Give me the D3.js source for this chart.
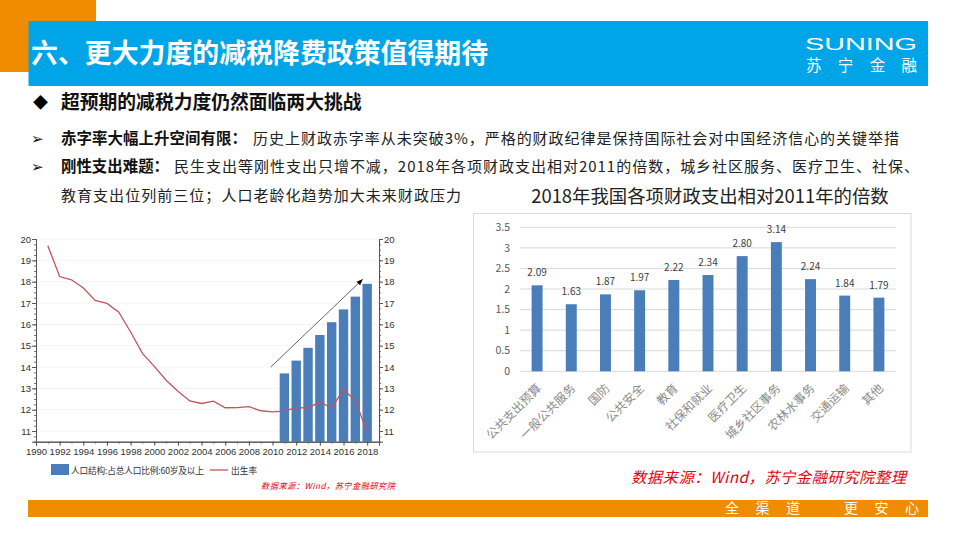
<!DOCTYPE html>
<html>
<head>
<meta charset="utf-8">
<script src="https://cdn.jsdelivr.net/npm/d3@7"></script>
<style>
  html, body { margin: 0; padding: 0; background: #fff; }
  svg { display: block; }
  text { font-family: "Noto Sans CJK SC", "Noto Sans", sans-serif; }
</style>
</head>
<body>
<script>
// left chart
const years = d3.range(1991, 2019);
const birthRate = [19.68, 18.24, 18.09, 17.70, 17.12, 16.98, 16.57, 15.64, 14.64, 14.03,
  13.38, 12.86, 12.41, 12.29, 12.40, 12.09, 12.10, 12.14, 11.95, 11.90,
  11.93, 12.10, 12.08, 12.37, 12.07, 12.95, 12.43, 10.94];
const barYears = [2011, 2012, 2013, 2014, 2015, 2016, 2017, 2018];
const agedShare = [13.7, 14.3, 14.9, 15.5, 16.1, 16.7, 17.3, 17.9];
const yearTicks = d3.range(1990, 2019, 2);
const rateTicks = d3.range(11, 21);
const arrowFrom = [2009.85, 14];
const arrowTo = [2017.6, 18.1];

// right chart
const categories = ["公共支出预算", "一般公共服务", "国防", "公共安全", "教育", "社保和就业",
  "医疗卫生", "城乡社区事务", "农林水事务", "交通运输", "其他"];
const multiples = [2.09, 1.63, 1.87, 1.97, 2.22, 2.34, 2.80, 3.14, 2.24, 1.84, 1.79];
const multipleTicks = [0, 0.5, 1, 1.5, 2, 2.5, 3, 3.5];

const orange = "#f08c00", blue = "#00a5e8", barBlue = "#4a7ebb", red = "#e60012";

const svg = d3.select("body").append("svg").attr("width", 960).attr("height", 540);

// page furniture
svg.append("rect").attr("x", 0).attr("y", 0).attr("width", 96).attr("height", 72).attr("fill", orange);
svg.append("rect").attr("x", 28.5).attr("y", 21).attr("width", 899.5).attr("height", 65).attr("fill", blue);
svg.append("rect").attr("x", 28).attr("y", 500).attr("width", 900).attr("height", 17).attr("fill", orange);

svg.append("text").attr("x", 31).attr("y", 63).attr("fill", "#fff")
  .attr("font-size", 26.9).attr("font-weight", 700).text("六、更大力度的减税降费政策值得期待");

svg.append("text").attr("x", 805).attr("y", 49.5).attr("fill", "#fff").attr("font-size", 16.5)
  .attr("textLength", 112).attr("lengthAdjust", "spacingAndGlyphs")
  .style("font-family", "Liberation Sans").text("SUNING");
svg.append("text").attr("x", 806).attr("y", 71).attr("fill", "#fff").attr("font-size", 15.5)
  .attr("textLength", 111).text("苏宁金融");

svg.append("text").attr("x", 725).attr("y", 513).attr("fill", "#fff").attr("font-size", 14)
  .attr("textLength", 75).text("全渠道");
svg.append("text").attr("x", 844).attr("y", 513).attr("fill", "#fff").attr("font-size", 14)
  .attr("textLength", 75).text("更安心");

// headline and bullets
svg.append("text").attr("x", 33).attr("y", 108).attr("font-size", 15).attr("fill", "#000").text("◆");
svg.append("text").attr("x", 61).attr("y", 109).attr("font-size", 18.8).attr("font-weight", 700)
  .attr("fill", "#111").text("超预期的减税力度仍然面临两大挑战");

const bullet = (y, bold, boldLen, rest, restX, restLen) => {
  svg.append("text").attr("x", 31).attr("y", y).attr("font-size", 15).attr("font-weight", 700)
    .style("font-family", "DejaVu Sans").attr("fill", "#111").text("➢");
  svg.append("text").attr("x", 61).attr("y", y).attr("font-size", 15.4).attr("font-weight", 700)
    .attr("fill", "#111").attr("textLength", boldLen).text(bold);
  svg.append("text").attr("x", restX).attr("y", y).attr("font-size", 15).attr("fill", "#222")
    .attr("textLength", restLen).text(rest);
};
bullet(144, "赤字率大幅上升空间有限：", 186,
  "历史上财政赤字率从未突破3%，严格的财政纪律是保持国际社会对中国经济信心的关键举措", 253, 646);
bullet(172, "刚性支出难题：", 108,
  "民生支出等刚性支出只增不减，2018年各项财政支出相对2011的倍数，城乡社区服务、医疗卫生、社保、", 174, 745);
svg.append("text").attr("x", 61).attr("y", 201).attr("font-size", 15).attr("fill", "#222")
  .attr("textLength", 400).text("教育支出位列前三位；人口老龄化趋势加大未来财政压力");

svg.append("text").attr("x", 710).attr("y", 203).attr("text-anchor", "middle")
  .attr("font-size", 18.4).attr("fill", "#222").text("2018年我国各项财政支出相对2011年的倍数");

// left chart: scales
const x1 = d3.scaleLinear().domain([1990, 2019]).range([36, 379]);
const y1 = d3.scaleLinear().domain([10.5, 20]).range([441.7, 239]);

const left = svg.append("g");

left.append("g").selectAll("line").data(rateTicks).join("line")
  .attr("x1", x1(1990)).attr("x2", x1(2019))
  .attr("y1", d => y1(d)).attr("y2", d => y1(d))
  .attr("stroke", "#f4f4f4").attr("stroke-width", 1);

left.append("g").selectAll("rect").data(barYears).join("rect")
  .attr("x", d => x1(d) - 4.7).attr("width", 9.4)
  .attr("y", (d, i) => y1(agedShare[i]))
  .attr("height", (d, i) => y1(10.5) - y1(agedShare[i]))
  .attr("fill", barBlue);

left.append("path").datum(birthRate)
  .attr("fill", "none").attr("stroke", "#c0565c").attr("stroke-width", 1.3)
  .attr("d", d3.line().x((d, i) => x1(years[i])).y(d => y1(d)));

const axisStyle = (g, size) => {
  g.select(".domain").attr("stroke", "#555");
  g.selectAll(".tick line").attr("stroke", "#555");
  g.selectAll("text").attr("font-size", size).attr("fill", "#333")
    .style("font-family", "'Liberation Sans', sans-serif");
};

const minor = d3.range(10.5, 20.01, 0.25);
[[d3.axisLeft, 36], [d3.axisRight, 379]].forEach(([axis, xPos]) => {
  left.append("g").attr("transform", `translate(${xPos},0)`)
    .call(axis(y1).tickValues(minor).tickSize(2).tickFormat(""))
    .call(g => g.select(".domain").attr("stroke", "#555"))
    .call(g => g.selectAll(".tick line").attr("stroke", "#777"));
  left.append("g").attr("transform", `translate(${xPos},0)`)
    .call(axis(y1).tickValues(rateTicks).tickSize(4).tickPadding(1).tickFormat(d3.format("d")))
    .call(axisStyle, 9.5);
});

left.append("g").attr("transform", `translate(0,${y1(10.5)})`)
  .call(d3.axisBottom(x1).tickValues(d3.range(1990, 2020)).tickSize(2).tickFormat(""))
  .call(g => g.select(".domain").attr("stroke", "#555"))
  .call(g => g.selectAll(".tick line").attr("stroke", "#777"));
left.append("g").attr("transform", `translate(0,${y1(10.5)})`)
  .call(d3.axisBottom(x1).tickValues(yearTicks).tickSize(4).tickPadding(3).tickFormat(d3.format("d")))
  .call(axisStyle, 9.5);

// trend arrow
svg.append("defs").append("marker").attr("id", "head")
  .attr("viewBox", "0 0 10 10").attr("refX", 9).attr("refY", 5)
  .attr("markerWidth", 9).attr("markerHeight", 7).attr("orient", "auto")
  .append("path").attr("d", "M0,1 L10,5 L0,9 Z").attr("fill", "#000");
left.append("line")
  .attr("x1", x1(arrowFrom[0])).attr("y1", y1(arrowFrom[1]))
  .attr("x2", x1(arrowTo[0])).attr("y2", y1(arrowTo[1]))
  .attr("stroke", "#555").attr("stroke-width", 0.9).attr("marker-end", "url(#head)");

// left legend
left.append("rect").attr("x", 51).attr("y", 464).attr("width", 18).attr("height", 11).attr("fill", barBlue);
left.append("text").attr("x", 71).attr("y", 474).attr("font-size", 8.7).attr("fill", "#333")
  .attr("textLength", 133).text("人口结构:占总人口比例:60岁及以上");
left.append("line").attr("x1", 210).attr("x2", 228).attr("y1", 470).attr("y2", 470)
  .attr("stroke", "#c0565c").attr("stroke-width", 1.3);
left.append("text").attr("x", 231).attr("y", 474).attr("font-size", 8.7).attr("fill", "#333").text("出生率");
left.append("text").attr("x", 261).attr("y", 489).attr("font-size", 8.2).attr("fill", red)
  .attr("font-style", "italic").attr("textLength", 134).text("数据来源：Wind，苏宁金融研究院");

// right chart
svg.append("rect").attr("x", 473.5).attr("y", 213.5).attr("width", 437.5).attr("height", 238.5)
  .attr("fill", "#fff").attr("stroke", "#d9d9d9");

const x2 = d3.scaleBand().domain(categories).range([520, 896]).paddingInner(0.68).paddingOuter(0.34);
const y2 = d3.scaleLinear().domain([0, 3.5]).range([371.3, 227.3]);
const right = svg.append("g");

right.append("g").selectAll("line").data(multipleTicks).join("line")
  .attr("x1", 520).attr("x2", 896)
  .attr("y1", d => y2(d)).attr("y2", d => y2(d))
  .attr("stroke", "#d9d9d9");

right.append("g").selectAll("text").data(multipleTicks).join("text")
  .attr("x", 510).attr("y", d => y2(d) + 3.7).attr("text-anchor", "end")
  .attr("font-size", 10.5).attr("fill", "#595959").text(d => d);

right.append("g").selectAll("rect").data(categories).join("rect")
  .attr("x", d => x2(d)).attr("width", x2.bandwidth())
  .attr("y", (d, i) => y2(multiples[i]))
  .attr("height", (d, i) => y2(0) - y2(multiples[i]))
  .attr("fill", barBlue);

right.append("g").selectAll("text").data(categories).join("text")
  .attr("x", d => x2(d) + x2.bandwidth() / 2)
  .attr("y", (d, i) => y2(multiples[i]) - 9)
  .attr("text-anchor", "middle").attr("font-size", 10).attr("fill", "#404040")
  .text((d, i) => multiples[i].toFixed(2));

right.append("g").selectAll("text").data(categories).join("text")
  .attr("text-anchor", "end").attr("font-size", 12).attr("fill", "#8a8a8a")
  .attr("transform", d => `translate(${x2(d) + x2.bandwidth() / 2 + 5},389) rotate(-45)`)
  .text(d => d);

svg.append("text").attr("x", 631).attr("y", 483).attr("font-size", 15.3).attr("fill", red)
  .attr("font-style", "italic").attr("textLength", 275).text("数据来源：Wind，苏宁金融研究院整理");
</script>
</body>
</html>
